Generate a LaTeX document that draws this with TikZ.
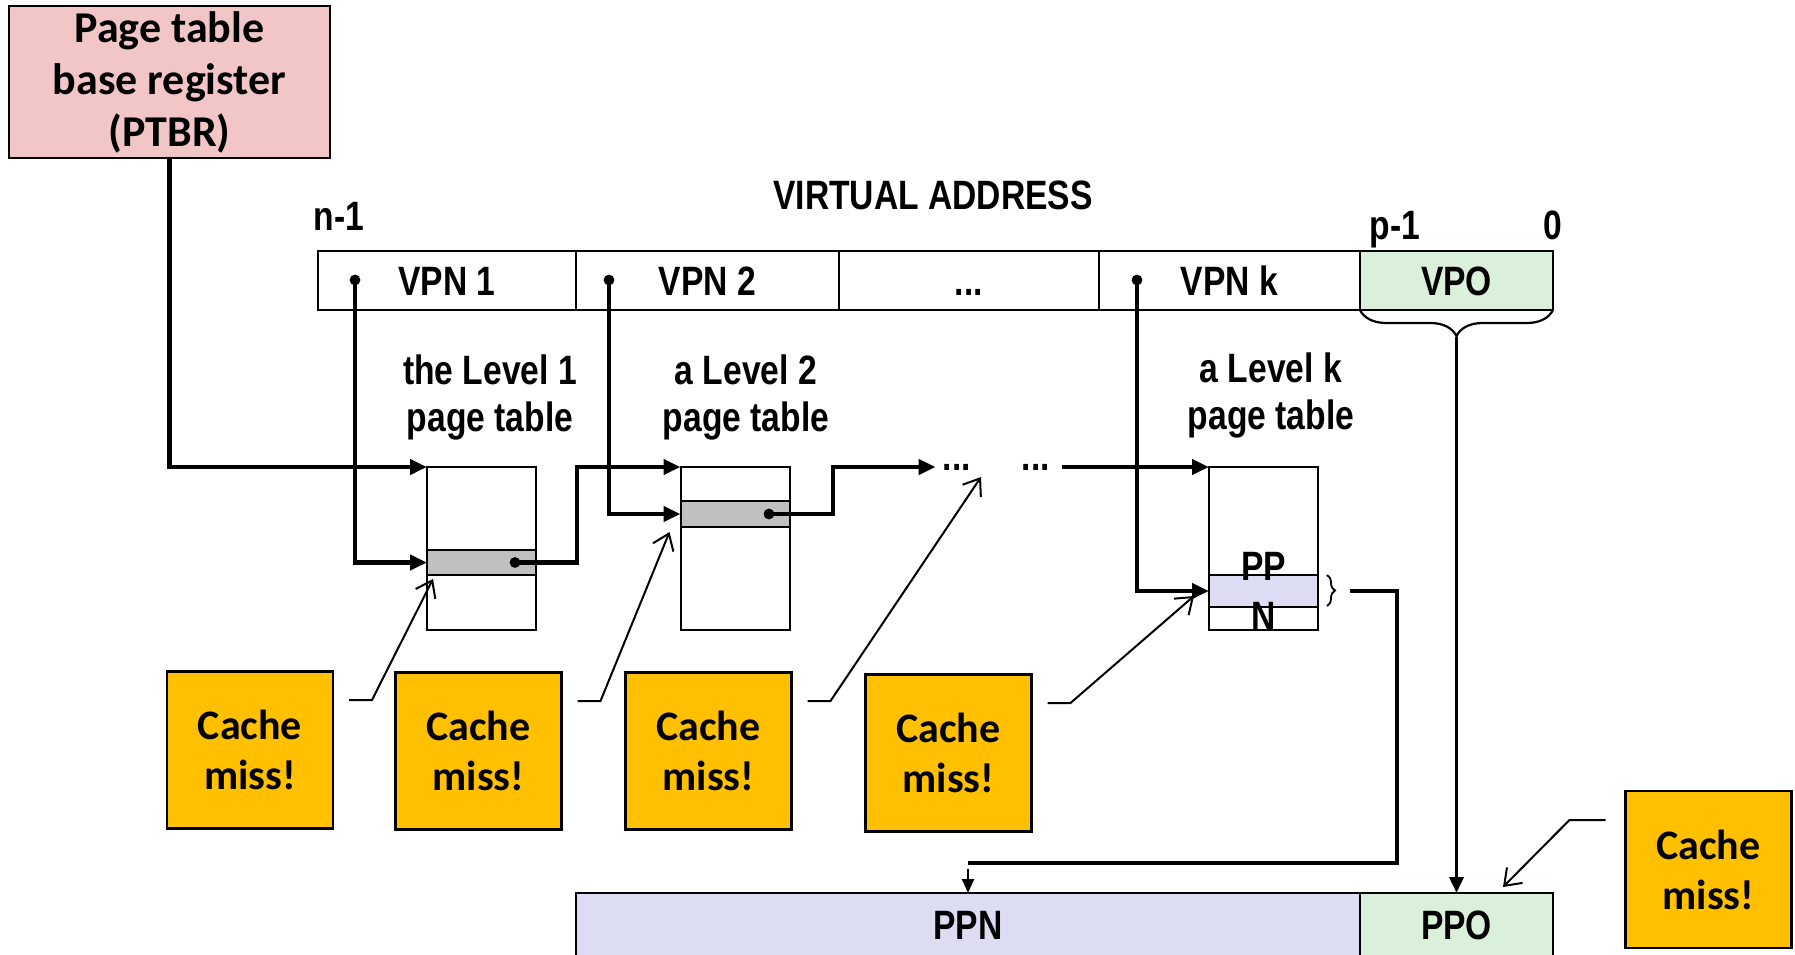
\documentclass[tikz,border=0pt]{standalone}
\usepackage{fontspec}
\newfontfamily\narrowfont[FakeStretch=0.82]{Liberation Sans}
\newfontfamily\calfont{Carlito}
\usetikzlibrary{arrows.meta,decorations.pathreplacing,calc}
\definecolor{ptbrpink}{HTML}{F2C6C6}
\definecolor{vpogreen}{HTML}{DAF0DA}
\definecolor{ppnblue}{HTML}{DCDCF2}
\definecolor{rowgray}{HTML}{C0C0C0}
\definecolor{missorange}{HTML}{FFC000}
\begin{document}
\begin{tikzpicture}[x=0.5pt,y=-0.5pt,
  lab/.style={font=\narrowfont\bfseries\fontsize{20.5}{23.5}\selectfont, inner sep=0pt, align=center},
  cal/.style={font=\calfont\bfseries\fontsize{22}{26}\selectfont, align=center},
  box/.style={draw, line width=1.1pt, inner sep=0pt, outer sep=0pt, anchor=center},
  vabox/.style={box, lab, minimum height=29.5pt, text height=14.7pt, text depth=0pt},
  tbl/.style={box, line width=1pt, minimum width=54.5pt},
  miss/.style={box, line width=1.3pt, fill=missorange, minimum width=83pt, minimum height=78.5pt,
    font=\calfont\bfseries\fontsize{21}{25}\selectfont, align=center},
  dot/.style={circle, fill=black, inner sep=0pt, minimum size=5.4pt},
  thk/.style={line width=2.2pt, -{Triangle[length=8.5pt,width=7.5pt]}},
  thkplain/.style={line width=2.2pt},
  vline/.style={line width=1.8pt, -{Triangle[length=8pt,width=7pt]}},
  thinarr/.style={line width=1.2pt, -{Triangle[length=7pt,width=6pt]}},
  call/.style={line width=1pt, -{Straight Barb[length=7.5pt,width=11pt]}}
]
\path[use as bounding box] (0,0) rectangle (1795,954);
\clip (0,0) rectangle (1795,954);
\fill[white] (0,0) rectangle (1795,954);

% PTBR
\node[box, cal, fill=ptbrpink, minimum width=160.5pt, minimum height=76pt] (ptbr) at (169.5,82) {Page table\\base register\\(PTBR)};

% virtual address
\node[lab] (vatitle) at (933,195) {VIRTUAL ADDRESS};
\node[lab, anchor=base] (nlab) at (339,230) {n-1};
\node[lab, anchor=base] (plab) at (1395,239) {p-1};
\node[lab, anchor=base] (zlab) at (1553,239) {0};
\node[vabox, minimum width=129pt] (vpn1) at (447,280.5) {VPN 1};
\node[vabox, minimum width=131.5pt] (vpn2) at (707.5,280.5) {VPN 2};
\node[vabox, minimum width=130pt] (vdots) at (969,280.5) {...};
\node[vabox, minimum width=130.5pt] (vpnk) at (1229.5,280.5) {VPN k};
\node[vabox, minimum width=96.5pt, fill=vpogreen] (vpo) at (1456.5,280.5) {VPO};
\node[dot] (d1) at (355,280) {};
\node[dot] (d2) at (609,280) {};
\node[dot] (dk) at (1137,280) {};
\draw[decorate, decoration={brace, mirror, amplitude=13pt, aspect=0.5}, line width=1.1pt] (vpo.south west) -- (vpo.south east);

% level labels
\node[lab] (l1lab) at (490,397) {the Level 1\\page table};
\node[lab] (l2lab) at (746,397) {a Level 2\\page table};
\node[lab] (lklab) at (1271,395) {a Level k\\page table};

% page tables
\node[tbl, minimum height=81.5pt] (t1) at (481.5,548.5) {};
\node[tbl, fill=rowgray, minimum height=12.5pt] (r1) at (481.5,562.5) {};
\node[tbl, minimum height=81.5pt] (t2) at (735,548.5) {};
\node[tbl, fill=rowgray, minimum height=13pt] (r2) at (735,514) {};
\node[tbl, minimum height=81.5pt] (tk) at (1263.5,548.5) {};
\node[tbl, fill=ppnblue, minimum height=16pt] (rk) at (1263.5,591) {};
\node[lab, font=\narrowfont\bfseries\fontsize{20.5}{25}\selectfont] (ppntxt) at (1263.5,591.5) {PP\\N};
\node[dot] (rd1) at (515,562.5) {};
\node[dot] (rd2) at (769,514) {};
\node[lab] (dA) at (957,467) {...};
\node[lab] (dB) at (1036,467) {...};
\draw[decorate, decoration={brace, amplitude=4pt}, line width=0.9pt] (1327,575) -- (1327,606);

% physical address
\node[box, lab, fill=ppnblue, minimum width=392pt, minimum height=32pt] (ppn) at (968,925) {PPN};
\node[box, lab, fill=vpogreen, minimum width=96.5pt, minimum height=32pt] (ppo) at (1456.5,925) {PPO};

% main connectors
\draw[thk] (ptbr.south) |- (t1.north west);
\draw[thk] (d1.center) |- (r1.west);
\draw[thk] (rd1.center) -- ++(62,0) |- (t2.north west);
\draw[thk] (d2.center) |- (r2.west);
\draw[thk] (rd2.center) -- ++(64,0) |- ($(dA.west)+(-7,0)$);
\draw[thk] ($(dB.east)+(12,0)$) -- (tk.north west);
\draw[thk] (dk.center) |- (rk.west);
\draw[thkplain] ($(rk.east)+(32,0)$) -- ++(47,0) |- ($(ppn.north)+(0,-30)$) coordinate (ppnin);
\draw[thinarr] ($(ppnin)+(0,6)$) -- (ppn.north);
\draw[vline] ($(vpo.south)+(0,27)$) -- (ppo.north);

% cache misses
\node[miss] (c1) at (250,750) {Cache\\miss!};
\node[miss] (c2) at (478.5,751) {Cache\\miss!};
\node[miss] (c3) at (708.5,751) {Cache\\miss!};
\node[miss] (c4) at (948.5,753) {Cache\\miss!};
\node[miss] (c5) at (1708.5,869.5) {Cache\\miss!};
\draw[call] ($(c1.east)+(16,-50)$) -- ++(23,0) -- ($(r1.south west)+(6,4)$);
\draw[call] ($(c2.east)+(16,-50)$) -- ++(23,0) -- ($(r2.south west)+(-11,5)$);
\draw[call] ($(c3.east)+(16,-50)$) -- ++(23,0) -- ($(dA.center)+(24,10)$);
\draw[call] ($(c4.east)+(16,-50)$) -- ++(23,0) -- ($(rk.south west)+(-15,-11)$);
\draw[call] ($(c5.west)+(-20,-49.5)$) -- ++(-36,0) -- ($(ppo.north)+(46.5,-6)$);
\end{tikzpicture}
\end{document}
